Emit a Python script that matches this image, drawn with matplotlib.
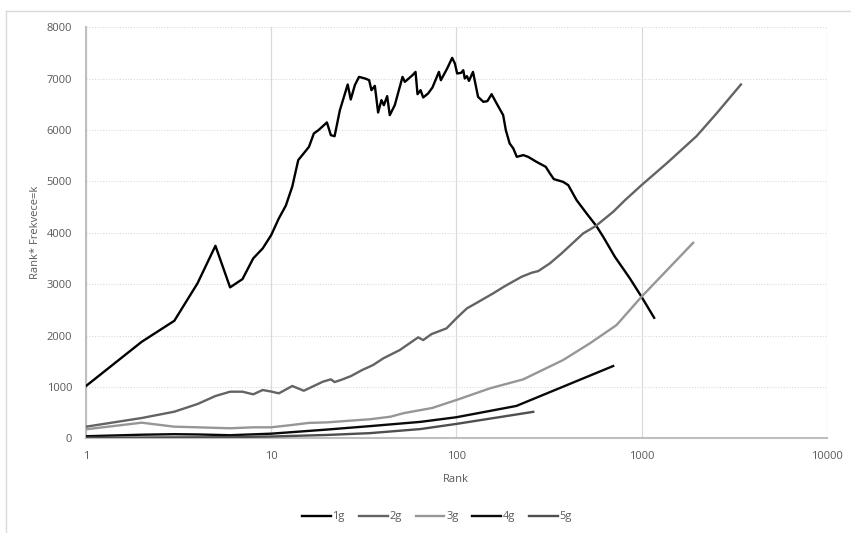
import matplotlib
matplotlib.use("Agg")
import matplotlib.pyplot as plt
from matplotlib.lines import Line2D
from matplotlib.ticker import FixedLocator, FixedFormatter, NullLocator

plt.rcParams['font.family'] = ['Open Sans', 'DejaVu Sans']

# ---- data ----
rank_1g = [1, 2, 3, 4, 5, 6, 7, 8, 9, 10, 11, 12, 13, 14, 16, 17, 18, 20, 21, 22, 23.5,
           25.9, 26.9, 28.3, 29.8, 32.1, 33.8, 34.8, 36.3, 37.8, 39.4, 40.6, 42.3, 43.7,
           46.5, 51.2, 52.7, 56.1, 58.0, 60.2, 61.7, 64.1, 66.2, 70.4, 74.3, 80.5, 82.5,
           89.2, 94.9, 98.2, 101, 106, 109, 111, 114, 117, 123, 131, 140, 147, 155, 165,
           179, 185, 194, 203, 212, 230, 244, 271, 304, 320, 336, 377, 402, 446, 505, 571,
           621, 718, 865, 1000, 1170]
val_1g = [1018, 1879, 2288, 3016, 3747, 2938, 3099, 3502, 3696, 3955, 4280, 4530, 4900,
          5415, 5673, 5934, 5998, 6148, 5901, 5880, 6387,
          6887, 6595, 6873, 7035, 7004, 6971, 6776, 6860, 6342, 6582, 6484, 6660, 6290,
          6484, 7035, 6938, 7023, 7068, 7132, 6698, 6776, 6634, 6712, 6829, 7132, 6971,
          7198, 7405, 7296, 7101, 7113, 7165, 7004, 7049, 6957, 7132, 6646, 6549, 6562,
          6698, 6518, 6290, 5998, 5739, 5642, 5479, 5512, 5479, 5381, 5284, 5156, 5045,
          4992, 4928, 4636, 4377, 4130, 3922, 3533, 3113, 2755, 2346]

rank_2g = [1, 2, 3, 4, 5, 6, 7, 8, 9, 10, 11, 13, 15, 19, 21, 22, 24, 27, 31, 35.5,
           40.3, 49.5, 62.2, 66.2, 73.5, 88.5, 100, 114, 129, 158, 183, 225, 255, 277,
           320, 370, 484, 565, 703, 815, 1000, 1365, 1982, 2541, 3442]
val_2g = [226, 395, 518, 667, 823, 907, 907, 856, 940, 910, 875, 1018, 926, 1101, 1148,
          1095, 1140, 1212, 1329, 1426, 1556, 1718, 1965, 1912, 2029, 2140, 2335, 2529,
          2638, 2821, 2963, 3144, 3222, 3255, 3405, 3599, 3988, 4130, 4409, 4636, 4928,
          5350, 5881, 6323, 6887]

rank_3g = [1, 2, 3, 4, 6, 8, 10, 13, 16, 20, 26, 34, 44, 52, 74, 100, 152, 230, 377,
           526, 733, 1000, 1900]
val_3g = [175, 304, 226, 214, 195, 214, 214, 260, 300, 310, 340, 370, 420, 490, 590,
          745, 973, 1148, 1523, 1848, 2204, 2755, 3805]

rank_4g = [1, 2, 3, 4, 6, 10, 20, 35, 64, 100, 211, 703]
val_4g = [40, 70, 80, 75, 60, 90, 170, 240, 320, 410, 630, 1407]

rank_5g = [1, 2, 3, 5, 10, 20, 34, 64, 100, 260]
val_5g = [10, 15, 18, 20, 35, 65, 100, 180, 280, 515]

series = [("1g", rank_1g, val_1g, "#000000"),
          ("2g", rank_2g, val_2g, "#636363"),
          ("3g", rank_3g, val_3g, "#969696"),
          ("4g", rank_4g, val_4g, "#0a0a0a"),
          ("5g", rank_5g, val_5g, "#4f4f4f")]

x_ticks = [1, 10, 100, 1000, 10000]
x_tick_labels = ["1", "10", "100", "1000", "10000"]
y_ticks = [0, 1000, 2000, 3000, 4000, 5000, 6000, 7000, 8000]

# ---- figure ----
W, H = 851, 533
fig = plt.figure(figsize=(W / 100, H / 100), dpi=100)
ax = fig.add_axes([86 / W, 1 - 438.3 / H, (826.7 - 86) / W, (438.3 - 27.3) / H])

for name, xs, ys, c in series:
    ax.plot(xs, ys, color=c, lw=1.7, label=name, solid_joinstyle='round', zorder=3)

ax.set_xscale('log')
ax.set_xlim(1, 10000)
ax.set_ylim(0, 8000)
ax.xaxis.set_major_locator(FixedLocator(x_ticks))
ax.xaxis.set_major_formatter(FixedFormatter(x_tick_labels))
ax.xaxis.set_minor_locator(NullLocator())
ax.set_yticks(y_ticks)
ax.set_yticklabels([str(v) for v in y_ticks])

ax.tick_params(axis='both', length=0, labelsize=8, labelcolor='#595959')
ax.tick_params(axis='y', pad=10)
ax.tick_params(axis='x', pad=9)

ax.grid(axis='x', color='#d9d9d9', lw=0.9, ls='-', zorder=0)
ax.grid(axis='y', color='#d9d9d9', lw=0.8, ls=(0, (1, 1.5)), zorder=0)

for s in ['top', 'right']:
    ax.spines[s].set_visible(False)
ax.spines['left'].set_color('#bfbfbf')
ax.spines['left'].set_linewidth(1.5)
ax.spines['bottom'].set_color('#bfbfbf')
ax.spines['bottom'].set_linewidth(1.5)

ax.set_xlabel("Rank", fontsize=8, color='#595959', labelpad=9)
ax.set_ylabel("Rank* Frekvece=k", fontsize=8, color='#595959', labelpad=4)

leg = fig.legend(loc='center', bbox_to_anchor=(437 / W, 1 - 517 / H), ncol=5,
                 frameon=False, fontsize=8, handlelength=2.6, handletextpad=0.15,
                 columnspacing=1.25, labelcolor='#595959')

# chart area border (cropped at right/bottom)
fig.add_artist(Line2D([6 / W, 1], [1 - 11 / H, 1 - 11 / H], color='#d9d9d9', lw=1.0,
                      transform=fig.transFigure))
fig.add_artist(Line2D([6 / W, 6 / W], [0, 1 - 11 / H], color='#d9d9d9', lw=1.0,
                      transform=fig.transFigure))

fig.savefig("out.png", dpi=100, facecolor='white')
